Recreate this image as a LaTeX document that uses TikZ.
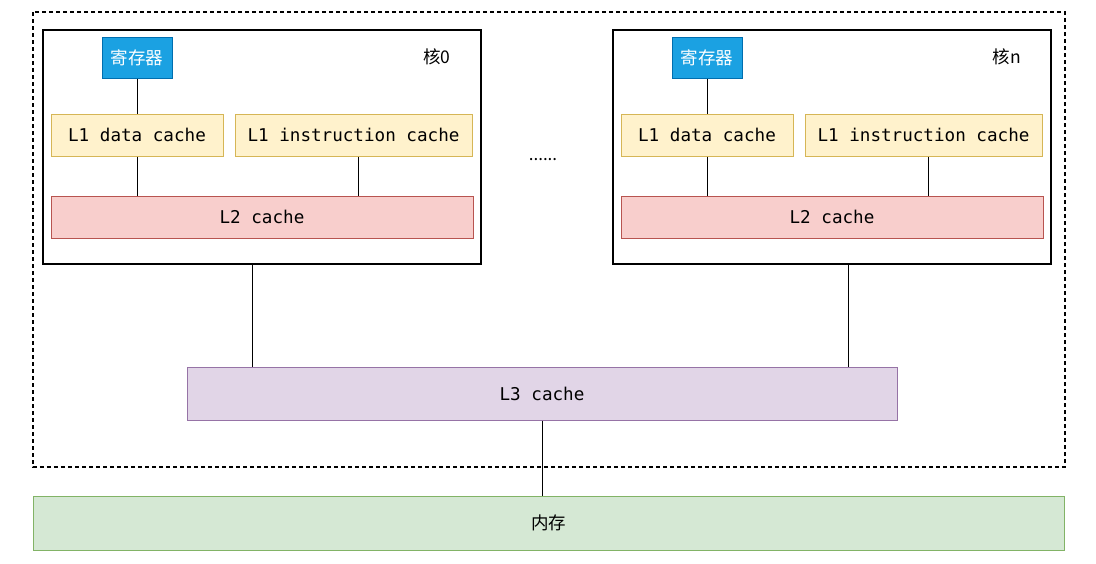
\documentclass[tikz,border=0pt]{standalone}
\usepackage{fontspec}
\newfontfamily\cjk{Noto Sans CJK SC}
\setmonofont{DejaVu Sans Mono}
\usetikzlibrary{positioning}
\definecolor{regfill}{HTML}{1BA1E2}
\definecolor{regline}{HTML}{006EAF}
\definecolor{lonefill}{HTML}{FFF2CC}
\definecolor{loneline}{HTML}{D6B656}
\definecolor{ltwofill}{HTML}{F8CECC}
\definecolor{ltwoline}{HTML}{B85450}
\definecolor{lthreefill}{HTML}{E1D5E7}
\definecolor{lthreeline}{HTML}{9673A6}
\definecolor{memfill}{HTML}{D5E8D4}
\definecolor{memline}{HTML}{82B366}

\begin{document}
\begin{tikzpicture}
[
x=1pt, y=-1pt,
block/.style    = {draw, rectangle, line width=1pt, inner sep=0pt},
cache/.style    = {block, font=\fontsize{17.6}{20}\selectfont\ttfamily, minimum height=42},
core/.style     = {draw, rectangle, line width=1.4pt, minimum width=438, minimum height=234},
reg/.style      = {block, fill=regfill, draw=regline, text=white, font=\fontsize{17.5}{20}\selectfont\cjk, minimum width=70, minimum height=41},
wire/.style     = {draw, line width=1pt},
]
\useasboundingbox (0,0) rectangle (1096,563);
\draw[line width=1.3pt, dash pattern=on 4pt off 3pt] (33,12) rectangle (1065,467);

\node at (542,393.5)[cache, fill=lthreefill, draw=lthreeline, minimum width=710, minimum height=53] (l3) {L3 cache};
\node at (548.5,523)[block, fill=memfill, draw=memline, minimum width=1031, minimum height=54, font=\fontsize{17.5}{20}\selectfont\cjk] (mem) {内存};
\node at (543,160)[font=\fontsize{17}{20}\selectfont\cjk] (dots) {......};

\foreach \x/\n/\d in {0/0/-10, 570/n/16}
{
\node at (262+\x,147)[core] (core\n) {};
\node at (137+\x,57.5)[reg] (reg\n) {寄存器};
\node at (437+\x,57)[font=\fontsize{17.5}{20}\selectfont\cjk] (name\n) {核\n};
\node at (137+\x,135)[cache, fill=lonefill, draw=loneline, minimum width=172] (ldata\n) {L1 data cache};
\node at (353.5+\x,135)[cache, fill=lonefill, draw=loneline, minimum width=237] (linst\n) {L1 instruction cache};
\node at (262+\x,217)[cache, fill=ltwofill, draw=ltwoline, minimum width=422] (ltwo\n) {L2 cache};
\draw[wire] (reg\n.south) -- (ldata\n.north);
\draw[wire] (ldata\n.south) -- (ldata\n.south |- ltwo\n.north);
\draw[wire] ([xshift=4.5pt]linst\n.south) -- ([xshift=4.5pt]linst\n.south |- ltwo\n.north);
\draw[wire] ([xshift=\d pt]core\n.south) -- ([xshift=\d pt]core\n.south |- l3.north);
}

\draw[wire] (l3.south) -- (l3.south |- mem.north);
\end{tikzpicture}
\end{document}
